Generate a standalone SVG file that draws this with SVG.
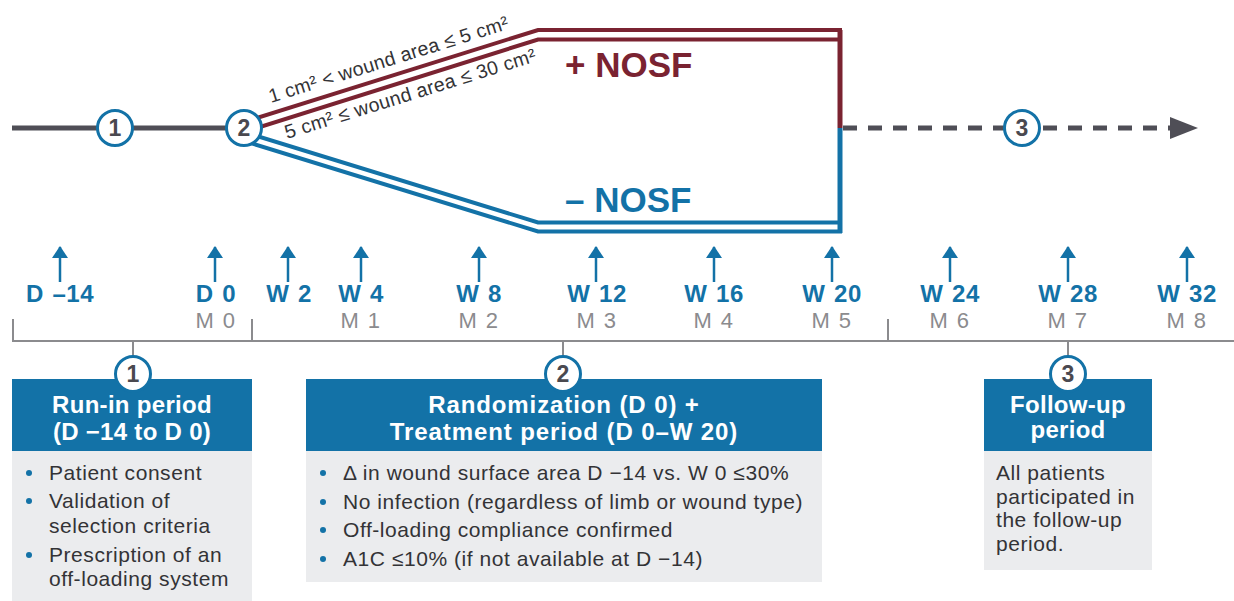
<svg xmlns="http://www.w3.org/2000/svg" width="1234" height="601" viewBox="0 0 1234 601">
  <style>
    .base { font-family: "Liberation Sans", Arial, sans-serif; }
    .num { font-family: "Liberation Sans", Arial, sans-serif; font-weight: bold; font-size: 23px; fill: #4a4950; text-anchor: middle; }
    .ring { fill: #ffffff; stroke: #1372a7; stroke-width: 3; }
    .wk { font-family: "Liberation Sans", Arial, sans-serif; font-weight: bold; font-size: 24px; fill: #1372a7; text-anchor: middle; letter-spacing: 0.5px; word-spacing: 1.5px; }
    .mo { font-family: "Liberation Sans", Arial, sans-serif; font-size: 22px; fill: #8b8b8e; text-anchor: middle; letter-spacing: 1.5px; }
    .hdr { fill: #1372a7; }
    .body { fill: #ebecee; }
    .htxt { font-family: "Liberation Sans", Arial, sans-serif; font-weight: bold; font-size: 24px; fill: #ffffff; text-anchor: middle; letter-spacing: 0.3px; }
    .htxt2 { letter-spacing: 0.9px; }
    .btxt { font-family: "Liberation Sans", Arial, sans-serif; font-size: 21px; fill: #333336; letter-spacing: 0.55px; }
    .bul { fill: #1372a7; }
    .red { fill: none; stroke: #7a2331; stroke-width: 4; }
    .blue { fill: none; stroke: #1372a7; stroke-width: 4; }
    .tick { stroke: #8b8b8e; stroke-width: 2; fill: none; }
    .up { stroke: #1372a7; stroke-width: 2.5; fill: none; }
    .diag { font-family: "Liberation Sans", Arial, sans-serif; font-size: 19.5px; fill: #333336; }
  </style>
  <defs>
    <marker id="upHead" markerWidth="16" markerHeight="12" refX="8" refY="1" orient="0" markerUnits="userSpaceOnUse">
      <polygon points="0,12 8,0 16,12" fill="#1372a7"/>
    </marker>
  </defs>

  <g id="connectors">
    <!-- run-in solid line -->
    <line x1="12" y1="128" x2="244" y2="128" stroke="#4f4e56" stroke-width="5"/>
    <!-- + NOSF double line -->
    <polyline class="red" points="244,122 538,30 840,30 840,128"/>
    <polyline class="red" points="244,132 538,39.5 840,39.5"/>
    <!-- - NOSF double line -->
    <polyline class="blue" points="244,132 538,222.5 840,222.5"/>
    <polyline class="blue" points="244,141 538,231.5 840,231.5 840,128"/>
    <line x1="840" y1="30" x2="840" y2="128" stroke="#7a2331" stroke-width="5"/>
    <line x1="840" y1="128" x2="840" y2="233" stroke="#1372a7" stroke-width="5"/>
    <!-- follow-up dashed line -->
    <line x1="843" y1="128" x2="1172" y2="128" stroke="#4f4e56" stroke-width="5" stroke-dasharray="14 11"/>
    <polygon points="1170,117 1198,128 1170,139" fill="#4f4e56"/>
    <!-- time axis arrows -->
    <g class="up" marker-start="url(#upHead)">
      <line x1="60" y1="247" x2="60" y2="282"/>
      <line x1="215" y1="247" x2="215" y2="282"/>
      <line x1="288" y1="247" x2="288" y2="282"/>
      <line x1="361" y1="247" x2="361" y2="282"/>
      <line x1="479" y1="247" x2="479" y2="282"/>
      <line x1="596" y1="247" x2="596" y2="282"/>
      <line x1="714" y1="247" x2="714" y2="282"/>
      <line x1="832" y1="247" x2="832" y2="282"/>
      <line x1="950" y1="247" x2="950" y2="282"/>
      <line x1="1068" y1="247" x2="1068" y2="282"/>
      <line x1="1187" y1="247" x2="1187" y2="282"/>
    </g>
    <!-- bracket -->
    <line class="tick" x1="12" y1="341" x2="1234" y2="341"/>
    <line class="tick" x1="13" y1="319" x2="13" y2="341"/>
    <line class="tick" x1="252" y1="319" x2="252" y2="341"/>
    <line class="tick" x1="888" y1="319" x2="888" y2="341"/>
    <line class="tick" x1="133" y1="341" x2="133" y2="357"/>
    <line class="tick" x1="563" y1="341" x2="563" y2="357"/>
    <line class="tick" x1="1068" y1="341" x2="1068" y2="357"/>
  </g>

  <g id="branch-labels">
    <text class="diag" transform="translate(271,103) rotate(-17.3)" textLength="250" lengthAdjust="spacing">1 cm² &lt; wound area ≤ 5 cm²</text>
    <text class="diag" transform="translate(287,139) rotate(-17.3)" textLength="262" lengthAdjust="spacing">5 cm² ≤ wound area ≤ 30 cm²</text>
    <text class="base" x="565" y="77" font-size="35" font-weight="bold" fill="#7a2331">+ NOSF</text>
    <text class="base" x="565" y="212" font-size="35" font-weight="bold" fill="#1372a7">– NOSF</text>
  </g>

  <g id="step1-marker">
    <circle class="ring" cx="115" cy="128" r="17.5"/>
    <text class="num" x="115" y="136">1</text>
  </g>
  <g id="step2-marker">
    <circle class="ring" cx="244" cy="128" r="17.5"/>
    <text class="num" x="244" y="136">2</text>
  </g>
  <g id="step3-marker">
    <circle class="ring" cx="1022" cy="128" r="17.5"/>
    <text class="num" x="1022" y="136">3</text>
  </g>

  <g id="timeline-labels">
    <text class="wk" x="60" y="302">D –14</text>
    <text class="wk" x="216" y="302">D 0</text>
    <text class="wk" x="289" y="302">W 2</text>
    <text class="wk" x="361" y="302">W 4</text>
    <text class="wk" x="479" y="302">W 8</text>
    <text class="wk" x="597" y="302">W 12</text>
    <text class="wk" x="714" y="302">W 16</text>
    <text class="wk" x="832" y="302">W 20</text>
    <text class="wk" x="950" y="302">W 24</text>
    <text class="wk" x="1068" y="302">W 28</text>
    <text class="wk" x="1187" y="302">W 32</text>
    <text class="mo" x="216" y="328">M 0</text>
    <text class="mo" x="361" y="328">M 1</text>
    <text class="mo" x="479" y="328">M 2</text>
    <text class="mo" x="597" y="328">M 3</text>
    <text class="mo" x="714" y="328">M 4</text>
    <text class="mo" x="832" y="328">M 5</text>
    <text class="mo" x="950" y="328">M 6</text>
    <text class="mo" x="1068" y="328">M 7</text>
    <text class="mo" x="1187" y="328">M 8</text>
  </g>

  <g id="box-runin">
    <rect class="hdr" x="12" y="379" width="240" height="72"/>
    <rect class="body" x="12" y="451" width="240" height="150"/>
    <text class="htxt" x="132" y="413">Run-in period</text>
    <text class="htxt" x="132" y="440">(D −14 to D 0)</text>
    <circle class="bul" cx="29" cy="473" r="3"/>
    <text class="btxt" x="49" y="480">Patient consent</text>
    <circle class="bul" cx="29" cy="501" r="3"/>
    <text class="btxt" x="49" y="508">Validation of</text>
    <text class="btxt" x="49" y="533">selection criteria</text>
    <circle class="bul" cx="29" cy="555" r="3"/>
    <text class="btxt" x="49" y="562">Prescription of an</text>
    <text class="btxt" x="49" y="586">off-loading system</text>
    <circle class="ring" cx="133" cy="374" r="17.5"/>
    <text class="num" x="133" y="382">1</text>
  </g>

  <g id="box-treatment">
    <rect class="hdr" x="306" y="379" width="516" height="72"/>
    <rect class="body" x="306" y="451" width="516" height="131"/>
    <text class="htxt htxt2" x="564" y="413">Randomization (D 0) +</text>
    <text class="htxt htxt2" x="564" y="440">Treatment period (D 0–W 20)</text>
    <circle class="bul" cx="323" cy="473" r="3"/>
    <text class="btxt" x="343" y="480">Δ in wound surface area D −14 vs. W 0 ≤30%</text>
    <circle class="bul" cx="323" cy="502" r="3"/>
    <text class="btxt" x="343" y="509">No infection (regardless of limb or wound type)</text>
    <circle class="bul" cx="323" cy="530" r="3"/>
    <text class="btxt" x="343" y="537">Off-loading compliance confirmed</text>
    <circle class="bul" cx="323" cy="559" r="3"/>
    <text class="btxt" x="343" y="566">A1C ≤10% (if not available at D −14)</text>
    <circle class="ring" cx="563" cy="374" r="17.5"/>
    <text class="num" x="563" y="382">2</text>
  </g>

  <g id="box-followup">
    <rect class="hdr" x="984" y="379" width="168" height="72"/>
    <rect class="body" x="984" y="451" width="168" height="119"/>
    <text class="htxt" x="1068" y="413">Follow-up</text>
    <text class="htxt" x="1068" y="438">period</text>
    <text class="btxt" x="996" y="480">All patients</text>
    <text class="btxt" x="996" y="504">participated in</text>
    <text class="btxt" x="996" y="527">the follow-up</text>
    <text class="btxt" x="996" y="551">period.</text>
    <circle class="ring" cx="1068" cy="374" r="17.5"/>
    <text class="num" x="1068" y="382">3</text>
  </g>
</svg>
